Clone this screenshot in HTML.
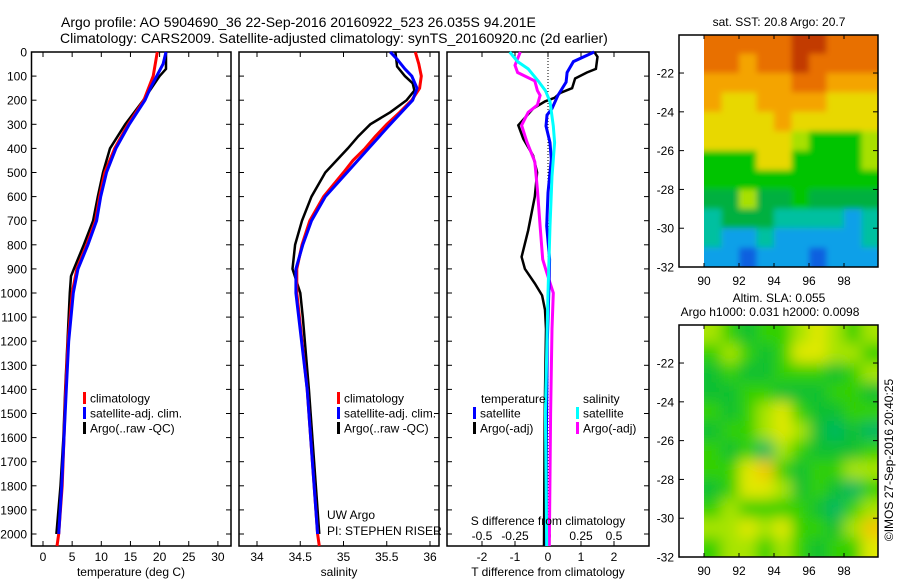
<!DOCTYPE html>
<html><head><meta charset="utf-8"><style>
html,body{margin:0;padding:0;background:#fff;width:900px;height:580px;overflow:hidden}
svg{display:block;font-family:"Liberation Sans",sans-serif}
text{fill:#000}
</style></head><body>
<svg id="c" width="900" height="580" viewBox="0 0 900 580">
<defs>
<filter id="b1" x="-5%" y="-5%" width="110%" height="110%"><feGaussianBlur stdDeviation="3"/></filter>
<filter id="b2" x="-5%" y="-5%" width="110%" height="110%"><feGaussianBlur stdDeviation="7"/></filter>
<clipPath id="cp1"><rect x="704" y="35" width="174" height="232"/></clipPath>
<clipPath id="cp2"><rect x="704" y="325" width="174" height="232"/></clipPath>
</defs>
<text x="61" y="27" font-size="14">Argo profile: AO 5904690_36 22-Sep-2016 20160922_523 26.035S 94.201E</text>
<text x="60" y="43" font-size="14">Climatology: CARS2009. Satellite-adjusted climatology: synTS_20160920.nc (2d earlier)</text>
<g id="g"></g>
</svg>
<script>
// ---- data ----
const tClimD=[0,100,200,300,400,500,600,700,800,900,1000,1200,1400,1600,1800,2000,2050];
const tClimV=[19.6,18.9,17.3,14.6,12.3,10.6,9.7,9.0,7.5,5.8,5.0,4.3,3.9,3.6,3.3,2.7,2.4];
const tSatD=[0,50,100,150,200,300,400,500,600,700,800,900,1000,1200,1400,1600,1800,2000];
const tSatV=[21.1,20.6,19.5,18.4,17.5,14.8,12.5,10.9,9.9,9.2,7.7,6.0,5.2,4.4,4.0,3.6,3.2,2.7];
const tArgD=[0,70,100,200,300,400,500,600,700,800,900,930,1000,1200,1400,1600,1800,2000];
const tArgV=[21.1,21.1,20.0,17.2,14.1,11.5,10.3,9.4,8.6,7.0,5.3,4.8,4.6,4.2,3.8,3.5,3.0,2.3];

const sClimD=[0,50,100,150,200,250,300,350,400,450,500,600,700,800,900,1000,1400,2000,2050];
const sClimV=[35.83,35.87,35.90,35.88,35.79,35.65,35.50,35.37,35.25,35.11,35.0,34.77,34.61,34.52,34.46,34.46,34.58,34.70,34.72];
const sSatD=[0,30,70,100,150,200,300,400,500,600,700,800,900,1000,1400,2000];
const sSatV=[35.54,35.62,35.71,35.79,35.85,35.80,35.54,35.29,35.04,34.79,34.63,34.53,34.45,34.45,34.58,34.70];
const sArgD=[0,60,100,130,160,200,250,300,350,400,450,500,600,700,800,900,1000,1100,1400,2000];
const sArgV=[35.6,35.62,35.71,35.80,35.82,35.73,35.54,35.31,35.17,35.05,34.92,34.79,34.63,34.52,34.44,34.41,34.50,34.53,34.60,34.72];

const dTSatD=[0,40,85,125,180,235,262,307,376,445,584,722,860,970,1200,1600,2050];
const dTSatV=[1.4,0.77,0.58,0.55,0.3,0.12,-0.03,-0.06,0.06,0.1,0.0,-0.04,0.05,0.03,-0.02,-0.05,-0.05];
const dTArgD=[0,20,70,85,110,150,170,190,205,235,304,360,430,500,600,740,850,900,960,1010,1070,1150,1500,2050];
const dTArgV=[1.4,1.5,1.45,1.18,0.82,0.73,0.37,0.2,-0.09,-0.45,-0.9,-0.75,-0.45,-0.33,-0.4,-0.6,-0.8,-0.7,-0.4,-0.18,-0.09,-0.06,-0.1,-0.12];
const dSSatD=[0,40,70,120,160,206,307,376,515,722,1000,1500,2050];
const dSSatV=[-0.29,-0.23,-0.15,-0.075,-0.02,0.015,0.04,0.05,0.03,0.015,0.0,-0.02,-0.01];
const dSArgD=[0,55,85,120,160,180,220,250,304,373,455,570,722,860,915,1000,1150,1500,2050];
const dSArgV=[-0.21,-0.25,-0.23,-0.1,-0.08,-0.06,-0.08,-0.15,-0.2,-0.16,-0.1,-0.08,-0.06,-0.04,-0.01,0.04,0.03,0.02,0.01];

const depthTicks=[0,100,200,300,400,500,600,700,800,900,1000,1100,1200,1300,1400,1500,1600,1700,1800,1900,2000];
const tTicks=[0,5,10,15,20,25,30];
const sTicks=[34,34.5,35,35.5,36];
const sTickLabels=["34","34.5","35","35.5","36"];
const dTTicks=[-2,-1,0,1,2];
const dSTicks=[-0.5,-0.25,0,0.25,0.5];
const dSTickLabels=["-0.5","-0.25","0","0.25","0.5"];
const lonTicks=[90,92,94,96,98];
const latTicks=[-22,-24,-26,-28,-30,-32];
const sstPalette=["#c23a00","#e87000","#f4a400","#e8d800","#a8e000","#00c400","#00b040","#00c0a0","#10a0e8","#1060e0"];
const slaPalette=["#c23a00","#f0a000","#f0c800","#e0e800","#a8e400","#30d000","#10c030","#00b860","#00c0a0","#1060e0"];
const sstGrid=[
[1,1,1,1,1,0,0,1,1,1],[1,1,2,1,1,0,1,1,1,1],[2,2,2,2,2,1,1,2,2,2],[2,3,3,2,2,2,2,3,3,3],
[3,3,3,3,2,3,3,3,3,3],[3,3,3,3,3,4,5,5,5,4],[5,5,5,3,3,5,5,5,5,4],[5,5,5,5,5,5,5,5,5,5],
[6,6,4,6,6,5,6,6,6,6],[7,6,6,6,7,7,7,7,8,7],[7,8,8,7,8,8,8,8,8,7],[8,8,9,8,8,8,9,8,8,8]];
const slaGrid=[
[4,5,6,5,5,4,3,4,5,4],[5,4,5,6,5,3,3,4,4,5],[6,5,6,6,5,5,5,6,5,4],[6,6,5,5,6,6,6,5,5,6],
[5,6,5,4,3,5,6,6,5,5],[6,5,5,4,3,4,6,7,6,7],[5,6,5,7,4,5,6,6,6,5],[5,5,3,2,5,6,5,5,4,4],
[6,5,3,3,4,6,5,6,7,5],[5,4,5,5,5,5,6,7,5,4],[4,4,3,4,3,5,5,6,4,2],[5,4,4,5,4,5,6,5,5,3]];

// ---- geometry ----
const NS="http://www.w3.org/2000/svg";
const G=document.getElementById('g');
function el(tag,attrs,txt,parent){const e=document.createElementNS(NS,tag);for(const k in attrs)e.setAttribute(k,attrs[k]);if(txt!==undefined&&txt!==null)e.textContent=txt;(parent||G).appendChild(e);return e;}
const top0=52, bot0=546;
const yD=d=>top0+d*0.241;
const xT=v=>43+5.83*v;
const xS=v=>257+86.5*(v-34);
const xDT=v=>548+33*v;
const xDS=v=>548+132*v;

function frame(x0,x1,name){
  const r=el('rect',{x:x0,y:top0,width:x1-x0,height:bot0-top0,fill:'none',stroke:'#000','stroke-width':1.5});
  
  
}
frame(31.5,231,'temperature-panel');
frame(239,439,'salinity-panel');
frame(447,649,'difference-panel');

depthTicks.forEach(d=>{
  const y=yD(d);
  [[31.5,1],[231,-1],[239,1],[439,-1],[447,1],[649,-1]].forEach(([x,s])=>{
    el('line',{x1:x,y1:y,x2:x+5*s,y2:y,stroke:'#000'});
  });
  const t=el('text',{x:27,y:y+4.5,'font-size':12,'text-anchor':'end'},String(d));
  
  
});
function xticks(vals,labels,fx,yl){
  vals.forEach((v,i)=>{
    const x=fx(v);
    el('line',{x1:x,y1:bot0,x2:x,y2:bot0-5,stroke:'#000'});
    el('line',{x1:x,y1:top0,x2:x,y2:top0+5,stroke:'#000'});
    const t=el('text',{x:x,y:yl,'font-size':12,'text-anchor':'middle'},labels[i]);
    
    
  });
}
xticks(tTicks,tTicks.map(String),xT,561);
xticks(sTicks,sTickLabels,xS,561);
xticks(dTTicks,dTTicks.map(String),xDT,561);
dSTicks.forEach((v,i)=>{
  const t=el('text',{x:xDS(v),y:540,'font-size':12,'text-anchor':'middle'},dSTickLabels[i]);
  
  
});
const zl=el('line',{x1:xDT(0),y1:top0,x2:xDT(0),y2:bot0,stroke:'#000','stroke-dasharray':'1,2'});



function series(D,V,fx,color,w,name){
  const p=D.map((d,i)=>fx(V[i]).toFixed(1)+','+yD(d).toFixed(1)).join(' ');
  const e=el('polyline',{points:p,fill:'none',stroke:color,'stroke-width':w,'stroke-linejoin':'miter'});
  
  
}
series(tArgD,tArgV,xT,'#000',2.5,'temp-argo-line');
series(tClimD,tClimV,xT,'#f00',3,'temp-climatology-line');
series(tSatD,tSatV,xT,'#00f',3,'temp-satellite-line');
series(sArgD,sArgV,xS,'#000',2.5,'sal-argo-line');
series(sClimD,sClimV,xS,'#f00',3,'sal-climatology-line');
series(sSatD,sSatV,xS,'#00f',3,'sal-satellite-line');
series(dTArgD,dTArgV,xDT,'#000',2.5,'tdiff-argo-line');
series(dSArgD,dSArgV,xDS,'#f0f',3,'sdiff-argo-line');
series(dTSatD,dTSatV,xDT,'#00f',3,'tdiff-satellite-line');
series(dSSatD,dSSatV,xDS,'#0ff',3,'sdiff-satellite-line');

function legItem(x,y,color,label,name){
  el('rect',{x:x,y:y-6,width:3,height:12,fill:color});
  const t=el('text',{x:x+7,y:y+4.5,'font-size':12},label);
  
  
}
legItem(83,398,'#f00','climatology','legend-climatology');
legItem(83,413,'#00f','satellite-adj. clim.','legend-satellite-adj');
legItem(83,428,'#000','Argo(..raw -QC)','legend-argo');
legItem(337,398,'#f00','climatology','legend-climatology-2');
legItem(337,413,'#00f','satellite-adj. clim.','legend-satellite-adj-2');
legItem(337,428,'#000','Argo(..raw -QC)','legend-argo-2');
el('text',{x:481,y:403,'font-size':12},'temperature');
el('text',{x:583,y:403,'font-size':12},'salinity');
legItem(473,413,'#00f','satellite','legend-t-satellite');
legItem(473,428,'#000','Argo(-adj)','legend-t-argo');
legItem(576,413,'#0ff','satellite','legend-s-satellite');
legItem(576,428,'#f0f','Argo(-adj)','legend-s-argo');

el('text',{x:327,y:519,'font-size':12},'UW Argo');
el('text',{x:327,y:535,'font-size':12},'PI: STEPHEN RISER');
el('text',{x:548,y:525,'font-size':12,'text-anchor':'middle'},'S difference from climatology');
el('text',{x:131,y:576,'font-size':12,'text-anchor':'middle'},'temperature (deg C)');
el('text',{x:339,y:576,'font-size':12,'text-anchor':'middle'},'salinity');
el('text',{x:548,y:576,'font-size':12,'text-anchor':'middle'},'T difference from climatology');

// ---- maps ----
const lonX=l=>704+17.5*(l-90);
function map(grid,palette,y0,name,clip,filt){
  const latY=lat=>y0+(-20.04-lat)*19.4;
  const outer=el('g',{'clip-path':'url(#'+clip+')'});
  const inner=el('g',{filter:'url(#'+filt+')'},null,outer);
  const cw=17.5,ch=19.4;
  grid.forEach((row,r)=>row.forEach((c,k)=>{
    const x=lonX(90+k), y=latY(-20-r);
    // extend edge cells so blur doesn't fade to white at borders
    const x0=k===0?x-12:x, y0c=r===0?y-12:y;
    const w=(k===row.length-1?cw+12:cw)+(k===0?12:0)+0.5;
    const h=(r===grid.length-1?ch+12:ch)+(r===0?12:0)+0.5;
    const e=el('rect',{x:x0.toFixed(1),y:y0c.toFixed(1),width:w.toFixed(1),height:h.toFixed(1),fill:palette[c]},null,inner);
    
    
  }));
  const f=el('rect',{x:679,y:y0,width:199,height:232,fill:'none',stroke:'#000','stroke-width':1.5});
  
  
  latTicks.forEach(l=>{
    const y=latY(l);
    el('line',{x1:679,y1:y,x2:684,y2:y,stroke:'#000'});
    el('line',{x1:878,y1:y,x2:873,y2:y,stroke:'#000'});
    el('text',{x:674,y:y+4.5,'font-size':12,'text-anchor':'end'},String(l));
  });
  lonTicks.forEach(l=>{
    const x=lonX(l);
    el('line',{x1:x,y1:y0,x2:x,y2:y0+4,stroke:'#000'});
    el('line',{x1:x,y1:y0+232,x2:x,y2:y0+228,stroke:'#000'});
    el('text',{x:x,y:y0+250,'font-size':12,'text-anchor':'middle'},String(l));
  });
}
map(sstGrid,sstPalette,35,'sst-map','cp1','b1');
map(slaGrid,slaPalette,325,'sla-map','cp2','b2');
el('text',{x:779,y:26,'font-size':12,'text-anchor':'middle'},'sat. SST: 20.8 Argo: 20.7');
el('text',{x:779,y:302,'font-size':12,'text-anchor':'middle'},'Altim. SLA: 0.055');
el('text',{x:770,y:316,'font-size':12,'text-anchor':'middle'},'Argo h1000: 0.031 h2000: 0.0098');
el('text',{x:893,y:460,'font-size':12,'text-anchor':'middle',transform:'rotate(-90 893 460)'},'©IMOS 27-Sep-2016 20:40:25');
</script>
</body></html>
